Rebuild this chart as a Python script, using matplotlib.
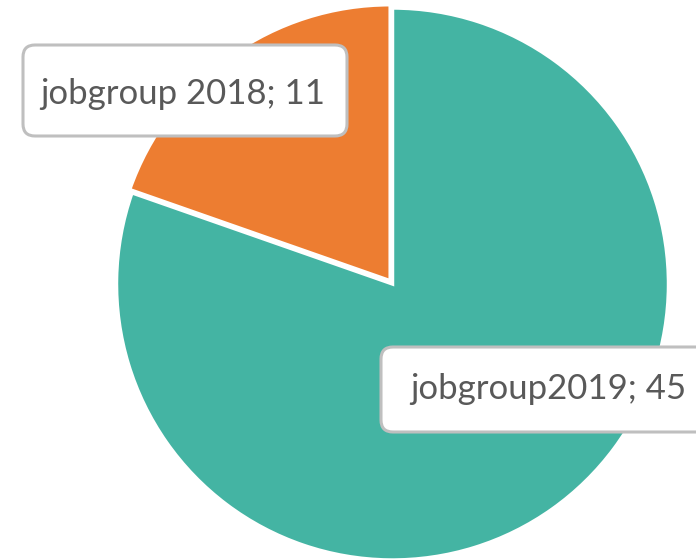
import matplotlib.pyplot as plt
from matplotlib.patches import FancyBboxPatch

labels = ["jobgroup 2018", "jobgroup2019"]
values = [11, 45]
colors = ["#ED7D31", "#44B4A3"]

W, H = 696, 559
fig = plt.figure(figsize=(W / 100, H / 100), dpi=100)
ax = fig.add_axes([0, 0, 1, 1])
ax.set_xlim(0, W)
ax.set_ylim(0, H)
ax.set_aspect("equal")
ax.axis("off")

# pie in pixel units (y flipped: H - y)
ax.pie(values, colors=colors, startangle=90, counterclock=True,
       center=(392.5, H - 284), radius=276, explode=[4, 0],
       wedgeprops=dict(edgecolor="white", linewidth=2.5))
ax.set_xlim(0, W)
ax.set_ylim(0, H)

# data labels in rounded boxes
boxes = [(23, 45, 347, 136), (381, 347, 712, 432)]
texts = ["%s; %d" % (l, v) for l, v in zip(labels, values)]
for (x0, y0, x1, y1), t in zip(boxes, texts):
    ax.add_patch(FancyBboxPatch((x0, H - y1), x1 - x0, y1 - y0,
                                boxstyle="round,pad=0,rounding_size=12",
                                facecolor="white", edgecolor="#BFBFBF",
                                linewidth=2.2, zorder=5))
ax.text(183, H - 94, texts[0], ha="center", va="center", fontsize=25,
        family="Lato", color="#595959", zorder=6)
ax.text(548, H - 389, texts[1], ha="center", va="center", fontsize=25,
        family="Lato", color="#595959", zorder=6)

fig.savefig("out.png", dpi=100)
